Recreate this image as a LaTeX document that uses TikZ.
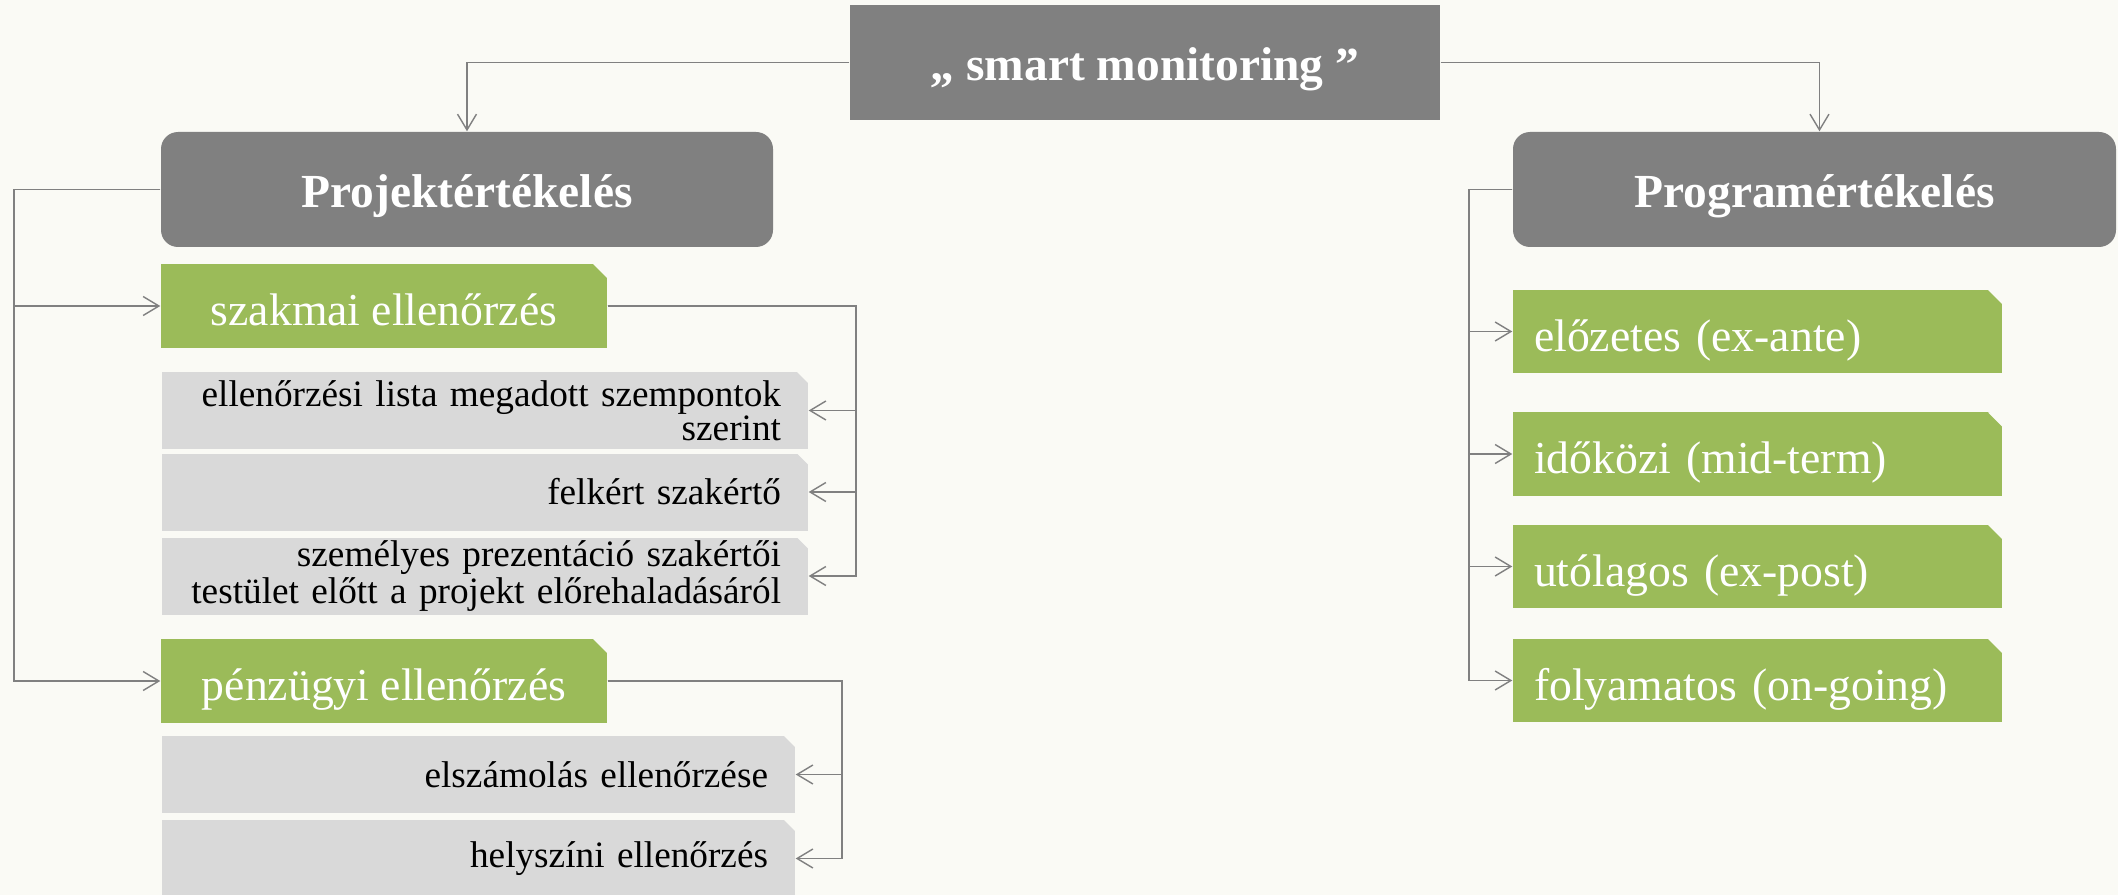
\documentclass[tikz,border=0pt]{standalone}
\usepackage{fontspec}
\setmainfont{Liberation Serif}
\usepackage{tikz}
\usetikzlibrary{arrows.meta, positioning, calc}
\definecolor{pagebg}{RGB}{250,250,245}
\definecolor{headgray}{RGB}{128,128,128}
\definecolor{ctrlgreen}{RGB}{155,187,89}
\definecolor{itemgray}{RGB}{217,217,217}
\definecolor{linkgray}{RGB}{128,128,128}
\hyphenpenalty=10000

\begin{document}
\begin{tikzpicture}[
  cutcorner/.style={path picture={
    \fill[pagebg] ([xshift=-#1]path picture bounding box.north east)
      -- ([xshift=1pt,yshift=1pt]path picture bounding box.north east)
      -- ([yshift=-#1]path picture bounding box.north east) -- cycle;}},
  head/.style={fill=headgray, text=white, inner sep=0pt, minimum height=1.15cm,
    font=\fontsize{13.5}{16}\selectfont\bfseries, text height=1.06em, text depth=0.06em},
  ctrl/.style={fill=ctrlgreen, text=white, inner sep=0pt, minimum height=0.84cm,
    font=\fontsize{13}{15}\selectfont, text height=1.12em, text depth=0em, cutcorner=0.14cm},
  item/.style={fill=itemgray, inner xsep=0.27cm, inner ysep=0pt, minimum height=0.77cm,
    align=right, font=\fontsize{10.6}{9.6}\selectfont, cutcorner=0.11cm},
  link/.style={draw=linkgray, line width=0.4pt, -{Straight Barb[length=4.5pt,width=5.4pt]}}
]
  \fill[pagebg] (0,0) rectangle (21.18,-8.95);
  \useasboundingbox (0,0) rectangle (21.18,-8.95);

  % Top
  \node[head, minimum width=5.9cm] (sm) at (11.45,-0.625) {„ smart monitoring ”};

  % Projektertekeles (left)
  \node[head, rounded corners=0.17cm, minimum width=6.12cm] (proj) at (4.67,-1.895) {Projektértékelés};

  \node[ctrl, minimum width=4.46cm] (szak) at (3.84,-3.06) {szakmai ellenőrzés};
  \node[item, text width=5.92cm] (it1) at (4.85,-4.105) {ellenőrzési lista megadott szempontok\\szerint};
  \node[item, text width=5.92cm] (it2) at (4.85,-4.92) {felkért szakértő};
  \node[item, text width=5.92cm] (it3) at (4.85,-5.76) {személyes prezentáció szakértői\\testület előtt a projekt előrehaladásáról};

  \node[ctrl, minimum width=4.46cm] (pen) at (3.84,-6.81) {pénzügyi ellenőrzés};
  \node[item, text width=5.79cm] (it4) at (4.785,-7.745) {elszámolás ellenőrzése};
  \node[item, text width=5.79cm] (it5) at (4.785,-8.585) {helyszíni ellenőrzés};

  % Programertekeles (right)
  \node[head, rounded corners=0.17cm, minimum width=6.03cm] (prog) at (18.145,-1.895) {Programértékelés};

  \node[ctrl, minimum height=0.83cm, inner xsep=0.21cm, text width=4.47cm, align=left] (ea) at (17.575,-3.315) {előzetes (ex-ante)};
  \node[ctrl, minimum height=0.83cm, inner xsep=0.21cm, text width=4.47cm, align=left] (mt) at (17.575,-4.54) {időközi (mid-term)};
  \node[ctrl, minimum height=0.83cm, inner xsep=0.21cm, text width=4.47cm, align=left] (ep) at (17.575,-5.665) {utólagos (ex-post)};
  \node[ctrl, minimum height=0.83cm, inner xsep=0.21cm, text width=4.47cm, align=left] (og) at (17.575,-6.805) {folyamatos (on-going)};

  % Connectors
  \coordinate (lbus) at (0.14,0);
  \coordinate (sbus) at (8.56,0);
  \coordinate (pbus) at (8.42,0);
  \coordinate (rbus) at (14.69,0);

  \draw[link] (sm.west) -| (proj.north);
  \draw[link] (sm.east) -| ([xshift=0.05cm]prog.north);

  \draw[link] (proj.west) -- (lbus |- proj.west) |- (szak.west);
  \draw[link] (proj.west) -- (lbus |- proj.west) |- (pen.west);
  \foreach \n in {it1,it2,it3}
    \draw[link] (szak.east) -- (sbus |- szak.east) |- (\n.east);
  \foreach \n in {it4,it5}
    \draw[link] (pen.east) -- (pbus |- pen.east) |- (\n.east);
  \foreach \n in {ea,mt,ep,og}
    \draw[link] (prog.west) -- (rbus |- prog.west) |- (\n.west);
\end{tikzpicture}
\end{document}
